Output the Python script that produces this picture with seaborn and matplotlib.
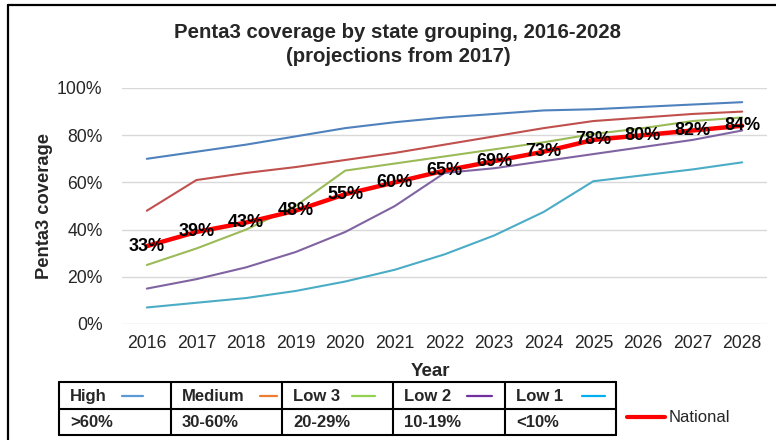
import matplotlib
matplotlib.use("Agg")
import matplotlib.pyplot as plt
import seaborn as sns
import pandas as pd
from matplotlib.lines import Line2D
from matplotlib.ticker import FuncFormatter

years = list(range(2016, 2029))
high = [70, 73, 76, 79.5, 83, 85.5, 87.5, 89, 90.5, 91, 92, 93, 94]
medium = [48, 61, 64, 66.5, 69.5, 72.5, 76, 79.5, 83, 86, 87.5, 89, 90]
low3 = [25, 32, 40, 50, 65, 68, 71, 74, 77, 80.5, 83, 86, 87.5]
low2 = [15, 19, 24, 30.5, 39, 50, 64, 66, 69, 72, 75, 78, 82]
low1 = [7, 9, 11, 14, 18, 23, 29.5, 37.5, 47.5, 60.5, 63, 65.5, 68.5]
national = [33, 39, 43, 48, 55, 60, 65, 69, 73, 78, 80, 82, 84]

groups = ["High", "Medium", "Low 3", "Low 2", "Low 1"]
ranges = [">60%", "30-60%", "20-29%", "10-19%", "<10%"]
line_colors = ["#4F81BD", "#C0504D", "#9BBB59", "#8064A2", "#4BACC6"]
key_colors = ["#5B9BD5", "#ED7D31", "#92D050", "#7030A0", "#00B0F0"]

sns.set_theme(style="white")
plt.rcParams["font.family"] = ["Liberation Sans", "DejaVu Sans"]

W, H = 776, 440
fig = plt.figure(figsize=(W / 100, H / 100), dpi=100)
ax = fig.add_axes([122 / W, 1 - 324 / H, (767 - 122) / W, (324 - 88) / H])

df = pd.DataFrame({
    "Year": years * 5,
    "Coverage": high + medium + low3 + low2 + low1,
    "Group": sum([[g] * len(years) for g in groups], []),
})
sns.lineplot(data=df, x="Year", y="Coverage", hue="Group", hue_order=groups,
             palette=line_colors, linewidth=1.5, ax=ax, legend=False)
sns.lineplot(x=years, y=national, color="#FF0000", linewidth=3.2, ax=ax)

for yr, v in zip(years, national):
    ax.text(yr, v, f"{v}%", ha="center", va="center", fontsize=13,
            fontweight="bold", color="black", zorder=5)

ax.set_xlim(2015.5, 2028.5)
ax.set_ylim(0, 100)
ax.set_xticks(years)
ax.set_yticks(range(0, 101, 20))
ax.yaxis.set_major_formatter(FuncFormatter(lambda v, p: f"{int(v)}%"))
ax.tick_params(axis="both", labelsize=12.7, colors="#262626", length=0)
ax.tick_params(axis="y", pad=14)
ax.tick_params(axis="x", pad=8)
ax.grid(axis="y", color="#D9D9D9", linewidth=1)
ax.set_axisbelow(True)
for s in ax.spines.values():
    s.set_visible(False)
ax.set_xlabel("")
ax.set_ylabel("")

fig.text(45 / W, 1 - 206 / H, "Penta3 coverage", rotation=90, ha="center",
         va="center", fontsize=13.2, fontweight="bold")
fig.text(430 / W, 1 - 371 / H, "Year", ha="center", va="center",
         fontsize=13.5, fontweight="bold")
fig.text(397 / W, 1 - 32 / H, "Penta3 coverage by state grouping, 2016-2028",
         ha="center", va="center", fontsize=14.7, fontweight="bold")
fig.text(398 / W, 1 - 56 / H, "(projections from 2017)",
         ha="center", va="center", fontsize=14.7, fontweight="bold")

# frame
fig.add_artist(Line2D([8 / W, 8 / W], [0, 1 - 5 / H], color="black", lw=1.6,
                      transform=fig.transFigure))
fig.add_artist(Line2D([8 / W, 1], [1 - 5 / H, 1 - 5 / H], color="black", lw=1.6,
                      transform=fig.transFigure))

# key table
cols = [59, 171, 282, 393, 505, 616]
rows = [382, 409, 435]
for x in cols:
    fig.add_artist(Line2D([x / W, x / W], [1 - rows[0] / H, 1 - rows[2] / H],
                          color="black", lw=1.5, transform=fig.transFigure))
for y in rows:
    fig.add_artist(Line2D([cols[0] / W, cols[-1] / W], [1 - y / H, 1 - y / H],
                          color="black", lw=1.5, transform=fig.transFigure))
key_offsets = [(63, 84), (89, 106), (70, 93), (74, 99), (77, 100)]
for i in range(5):
    x0 = cols[i] + 11
    fig.text(x0 / W, 1 - 396 / H, groups[i], ha="left", va="center",
             fontsize=12, fontweight="bold")
    fig.text(x0 / W, 1 - 422 / H, ranges[i], ha="left", va="center",
             fontsize=12, fontweight="bold")
    a, b = key_offsets[i]
    fig.add_artist(Line2D([(cols[i] + a) / W, (cols[i] + b) / W],
                          [1 - 396 / H, 1 - 396 / H], color=key_colors[i],
                          lw=1.6, transform=fig.transFigure))

fig.add_artist(Line2D([627 / W, 665 / W], [1 - 417 / H, 1 - 417 / H],
                      color="#FF0000", lw=3, transform=fig.transFigure))
fig.text(669 / W, 1 - 417 / H, "National", ha="left", va="center", fontsize=12)

fig.savefig("out.png", dpi=100)
